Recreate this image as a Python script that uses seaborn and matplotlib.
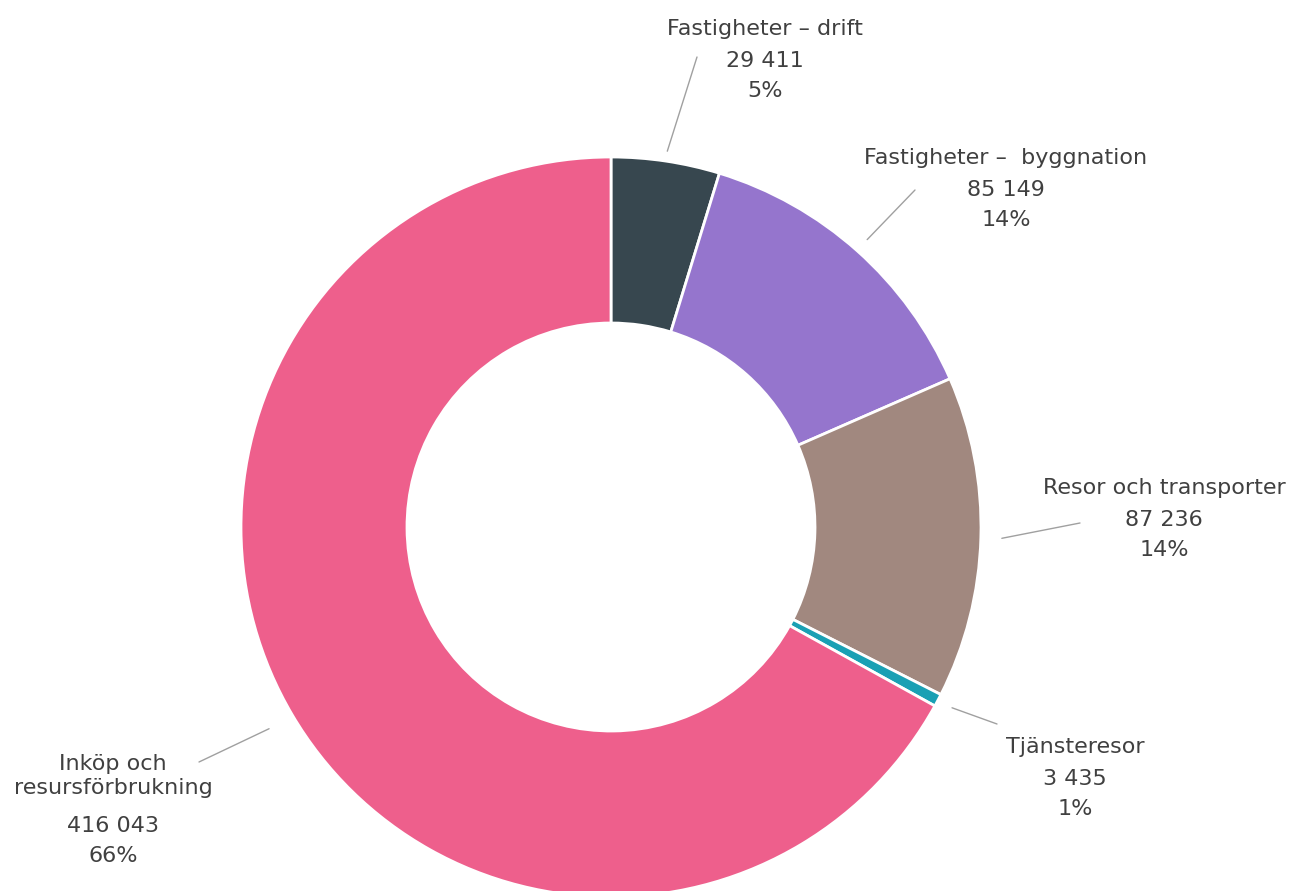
import numpy as np
import matplotlib
matplotlib.use("Agg")
import matplotlib.pyplot as plt
import seaborn as sns

sns.set_theme(style="white")
plt.rcParams['font.family'] = ['DejaVu Sans']

categories = ["Fastigheter – drift", "Fastigheter –  byggnation", "Resor och transporter",
              "Tjänsteresor", "Inköp och\nresursförbrukning"]
values = [29411, 85149, 87236, 3435, 416043]
value_labels = ["29 411", "85 149", "87 236", "3 435", "416 043"]
pct_labels = ["5%", "14%", "14%", "1%", "66%"]
colors = ["#37474F", "#9575CD", "#A1887F", "#1AA0B4", "#EE5F8C"]

W, H = 1292, 891
fig = plt.figure(figsize=(W / 100, H / 100), dpi=100)
ax = fig.add_axes([0, 0, 1, 1])

cx, cy = 611, H - 527
R = 370
wedges, _ = ax.pie(values, colors=colors, startangle=90, counterclock=False,
                   center=(cx, cy), radius=R, frame=True,
                   wedgeprops=dict(width=166, edgecolor="white", linewidth=2))
ax.set_xlim(0, W)
ax.set_ylim(0, H)
ax.set_aspect("equal")
ax.axis("off")

# label layout (pixel positions, top-left origin): line end, text center x, text top-line y
line_ends = [(697, 57), (915, 190), (1080, 523), (997, 724), (199, 762)]
text_pos = [(765, 29), (1006, 158), (1164, 488), (1075, 747), (113, 762)]
start_r = [380, 385, 391, 386, 397]

txt_color = "#404040"
fs = 16
total = sum(values)
ang = 90.0
for i, v in enumerate(values):
    span = 360.0 * v / total
    mid = np.deg2rad(ang - span / 2)
    ang -= span
    sx = cx + start_r[i] * np.cos(mid)
    sy = cy + start_r[i] * np.sin(mid)
    ex, ey = line_ends[i]
    ax.plot([sx, ex], [sy, H - ey], color="#A0A0A0", lw=1)
    tx, ty = text_pos[i]
    name = categories[i]
    nlines = name.count("\n") + 1
    ax.text(tx, H - (ty + (nlines - 1) * 14), name, ha="center", va="center",
            fontsize=fs, color=txt_color, linespacing=1.2)
    base = ty + (nlines - 1) * 28 + (36 if nlines > 1 else 32)
    ax.text(tx, H - base, value_labels[i], ha="center", va="center",
            fontsize=fs, color=txt_color)
    ax.text(tx, H - base - 30, pct_labels[i], ha="center", va="center",
            fontsize=fs, color=txt_color)

fig.savefig("out.png", dpi=100, facecolor="white")
